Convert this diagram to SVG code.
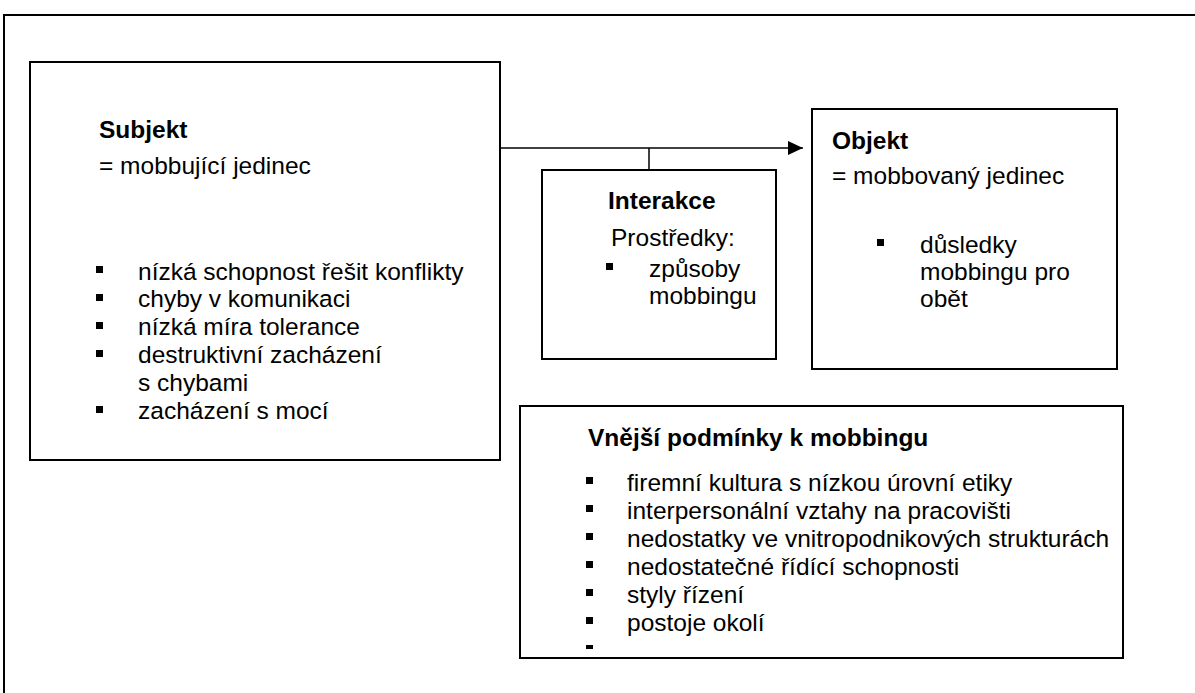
<svg xmlns="http://www.w3.org/2000/svg" width="1195" height="693" viewBox="0 0 1195 693">
<defs>
<style>
.box{fill:#fff;stroke:#000;stroke-width:2}
.t{font-family:"Liberation Sans",Arial,sans-serif;font-size:24.5px;fill:#000}
.b{font-weight:bold}
.bul{fill:#000}
.ln{stroke:#000;stroke-width:1.5;fill:none}
</style>
<marker id="ah" viewBox="0 0 15 14" refX="15" refY="7" markerWidth="15" markerHeight="14" markerUnits="userSpaceOnUse" orient="auto"><path d="M0,0 L15,7 L0,14 Z" fill="#000"/></marker>
</defs>
<rect width="1195" height="693" fill="#fff"/>
<path d="M4,700 V15 H1200" fill="none" stroke="#000" stroke-width="2"/>
<g id="connectors">
<line class="ln" x1="500" y1="148" x2="803" y2="148" marker-end="url(#ah)"/>
<line class="ln" x1="649" y1="148" x2="649" y2="170"/>
</g>
<g id="subjekt">
<rect class="box" x="30" y="62" width="470" height="398"/>
<text class="t b" x="99" y="138">Subjekt</text>
<text class="t" x="99" y="174">= mobbující jedinec</text>
<rect class="bul" x="96" y="266" width="7" height="7"/>
<rect class="bul" x="96" y="294" width="7" height="7"/>
<rect class="bul" x="96" y="322" width="7" height="7"/>
<rect class="bul" x="96" y="350" width="7" height="7"/>
<rect class="bul" x="96" y="406" width="7" height="7"/>
<text class="t" x="138" y="280">nízká schopnost řešit konflikty</text>
<text class="t" x="138" y="307">chyby v komunikaci</text>
<text class="t" x="138" y="335">nízká míra tolerance</text>
<text class="t" x="138" y="363">destruktivní zacházení</text>
<text class="t" x="138" y="391">s chybami</text>
<text class="t" x="138" y="419">zacházení s mocí</text>
</g>
<g id="interakce">
<rect class="box" x="542" y="170" width="234" height="189"/>
<text class="t b" x="608" y="209">Interakce</text>
<text class="t" x="611" y="246">Prostředky:</text>
<rect class="bul" x="606" y="263" width="7" height="7"/>
<text class="t" x="649" y="277">způsoby</text>
<text class="t" x="649" y="304">mobbingu</text>
</g>
<g id="objekt">
<rect class="box" x="812" y="109" width="305" height="260"/>
<text class="t b" x="832" y="149">Objekt</text>
<text class="t" x="832" y="184">= mobbovaný jedinec</text>
<rect class="bul" x="877" y="239" width="7" height="7"/>
<text class="t" x="920" y="253">důsledky</text>
<text class="t" x="920" y="280">mobbingu pro</text>
<text class="t" x="920" y="307">obět</text>
</g>
<g id="podminky">
<rect class="box" x="520" y="406" width="603" height="252"/>
<text class="t b" x="588" y="446">Vnější podmínky k mobbingu</text>
<rect class="bul" x="586" y="477" width="7" height="7"/>
<rect class="bul" x="586" y="505" width="7" height="7"/>
<rect class="bul" x="586" y="533" width="7" height="7"/>
<rect class="bul" x="586" y="561" width="7" height="7"/>
<rect class="bul" x="586" y="589" width="7" height="7"/>
<rect class="bul" x="586" y="617" width="7" height="7"/>
<rect class="bul" x="586" y="645" width="7" height="4"/>
<text class="t" x="627" y="491">firemní kultura s nízkou úrovní etiky</text>
<text class="t" x="627" y="519">interpersonální vztahy na pracovišti</text>
<text class="t" x="627" y="547">nedostatky ve vnitropodnikových strukturách</text>
<text class="t" x="627" y="575">nedostatečné řídící schopnosti</text>
<text class="t" x="627" y="603">styly řízení</text>
<text class="t" x="627" y="631">postoje okolí</text>
</g>
</svg>
